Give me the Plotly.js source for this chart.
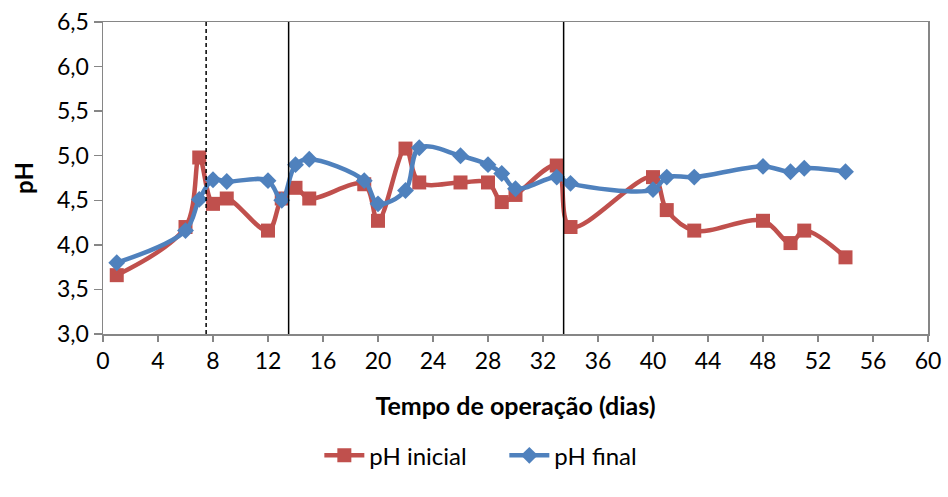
<!DOCTYPE html>
<html>
<head>
<meta charset="utf-8">
<script src="https://cdn.plot.ly/plotly-3.0.1.min.js"></script>
<style>html,body{margin:0;padding:0;background:#fff;}#chart{width:948px;height:497px;}</style>
</head>
<body>
<div id="chart"></div>
<script>
// Days of operation
const diasInicial = [1, 6, 7, 8, 9, 12, 13, 14, 15, 19, 20, 22, 23, 26, 28, 29, 30, 33, 34, 40, 41, 43, 48, 50, 51, 54];
const phInicial   = [3.66, 4.20, 4.98, 4.46, 4.52, 4.16, 4.52, 4.64, 4.52, 4.68, 4.27, 5.08, 4.70, 4.70, 4.70, 4.48, 4.56, 4.89, 4.20, 4.76, 4.39, 4.16, 4.27, 4.02, 4.16, 3.86];
const diasFinal   = [1, 6, 7, 8, 9, 12, 13, 14, 15, 19, 20, 22, 23, 26, 28, 29, 30, 33, 34, 40, 41, 43, 48, 50, 51, 54];
const phFinal     = [3.80, 4.16, 4.51, 4.73, 4.71, 4.72, 4.50, 4.90, 4.96, 4.72, 4.46, 4.61, 5.09, 5.00, 4.90, 4.80, 4.63, 4.76, 4.69, 4.62, 4.76, 4.76, 4.88, 4.82, 4.86, 4.82];
const nomeInicial = "pH inicial";
const nomeFinal = "pH final";
// Phase separators (days)
const faseDashed = [7.5];
const faseSolid = [13.5, 33.5];

const fontFam = "Lato, 'Open Sans', sans-serif";
const traces = [
  {x: diasInicial, y: phInicial, name: nomeInicial, type: 'scatter', mode: 'lines+markers',
   line: {color: '#C0504D', width: 4.5, shape: 'spline', smoothing: 1},
   marker: {symbol: 'square', size: 14, color: '#C0504D'}},
  {x: diasFinal, y: phFinal, name: nomeFinal, type: 'scatter', mode: 'lines+markers',
   line: {color: '#4F81BD', width: 4.5, shape: 'spline', smoothing: 1},
   marker: {symbol: 'diamond', size: 13, color: '#4F81BD'}}
];
const shapes = [];
faseDashed.forEach(d => shapes.push({type: 'line', xref: 'x', yref: 'paper', x0: d, x1: d, y0: 0, y1: 1,
  line: {color: '#000', width: 1.5, dash: '4px,3px'}}));
faseSolid.forEach(d => shapes.push({type: 'line', xref: 'x', yref: 'paper', x0: d, x1: d, y0: 0, y1: 1,
  line: {color: '#000', width: 1.5}}));

const layout = {
  width: 948, height: 497,
  margin: {l: 103, r: 20, t: 22, b: 163},
  paper_bgcolor: '#fff', plot_bgcolor: '#fff',
  separators: ',.',
  font: {family: fontFam, color: '#000', size: 23},
  showlegend: true,
  legend: {orientation: 'h', xref: 'container', yref: 'container', x: 0.532, xanchor: 'center', y: 0.083, yanchor: 'middle',
    font: {size: 24, family: fontFam}, traceorder: 'normal', itemwidth: 40, entrywidth: 130},
  xaxis: {range: [0, 60], dtick: 4, tick0: 0, showgrid: false, zeroline: false,
    showline: true, linecolor: '#868686', linewidth: 1.5, mirror: true,
    ticks: 'outside', ticklen: 6, tickcolor: '#868686', tickwidth: 1.5,
    tickfont: {size: 23, family: fontFam},
    title: {text: '<b>Tempo de operação (dias)</b>', font: {size: 25, family: fontFam}, standoff: 24}},
  yaxis: {range: [3.0, 6.5], dtick: 0.5, tick0: 3, tickformat: '.1f', showgrid: false, zeroline: false,
    showline: true, linecolor: '#868686', linewidth: 1.5, mirror: true,
    ticks: 'outside', ticklen: 8, tickcolor: '#868686', tickwidth: 1.5,
    tickfont: {size: 23, family: fontFam},
    title: {text: '<b>pH</b>', font: {size: 24, family: fontFam}, standoff: 16}},
  shapes: shapes
};
Plotly.newPlot('chart', traces, layout, {displayModeBar: false, staticPlot: true});
</script>
</body>
</html>
